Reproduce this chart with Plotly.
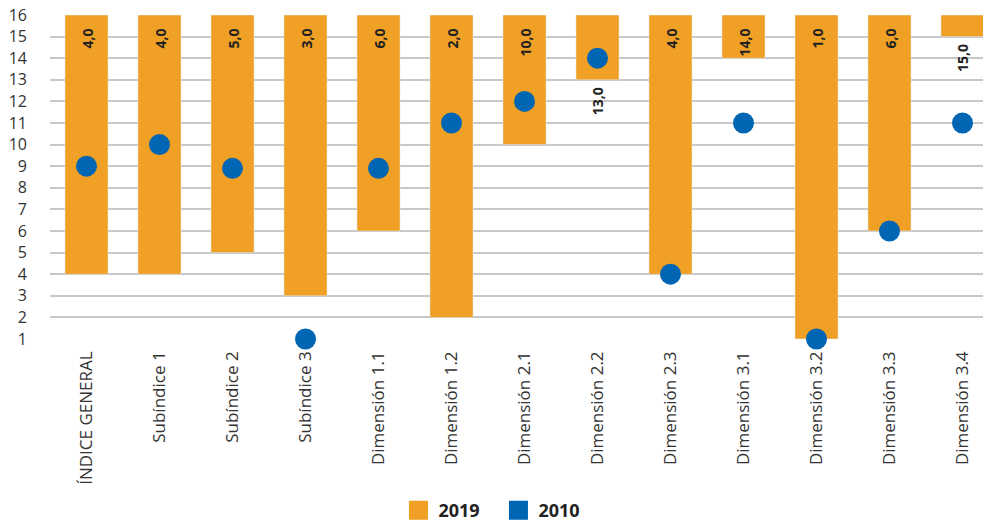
import plotly.graph_objects as go

categories = ["ÍNDICE GENERAL", "Subíndice 1", "Subíndice 2", "Subíndice 3",
              "Dimensión 1.1", "Dimensión 1.2", "Dimensión 2.1", "Dimensión 2.2",
              "Dimensión 2.3", "Dimensión 3.1", "Dimensión 3.2", "Dimensión 3.3",
              "Dimensión 3.4"]
rank_2019 = [4, 4, 5, 3, 6, 2, 10, 13, 4, 14, 1, 6, 15]
rank_2010 = [9, 10, 8.9, 1, 8.9, 11, 12, 14, 4, 11, 1, 6, 11]
y_ticks = list(range(1, 17))

ORANGE = "#F0A024"
BLUE = "#0066B3"
TOP = 16

fig = go.Figure()

fig.add_trace(go.Bar(
    x=categories,
    y=[v - TOP for v in rank_2019],
    base=TOP,
    name="2019",
    marker_color=ORANGE,
    width=0.59,
    showlegend=False,
))

fig.add_trace(go.Scatter(
    x=categories,
    y=rank_2010,
    name="2010",
    mode="markers",
    marker=dict(color=BLUE, size=21, symbol="circle"),
    cliponaxis=False,
    showlegend=False,
))

# legend-only entries so both keys are squares
for name, col in [("2019", ORANGE), ("2010", BLUE)]:
    fig.add_trace(go.Scatter(
        x=[None], y=[None], name=name, mode="markers",
        marker=dict(color=col, size=16, symbol="square",
                    line=dict(color=col, width=3)),
    ))

# value labels, rotated, near the top of each bar (below it for short bars)
for cat, v in zip(categories, rank_2019):
    txt = f"{v:.1f}".replace(".", ",")
    outside = v in (13, 15)
    fig.add_annotation(
        x=cat, y=v if outside else TOP,
        text=f"<b>{txt}</b>", showarrow=False,
        textangle=-90, yanchor="top",
        yshift=-6 if outside else -12,
        font=dict(family="Open Sans", size=14, color="#222222"),
    )

fig.update_layout(
    width=991, height=521,
    margin=dict(l=42, r=0, t=7, b=190, autoexpand=False),
    plot_bgcolor="white",
    paper_bgcolor="white",
    font=dict(family="Open Sans", size=16, color="#333333"),
    showlegend=True,
    legend=dict(
        orientation="h", xref="container", x=0.394, xanchor="left",
        yref="container", y=0.0, yanchor="bottom",
        font=dict(size=18, color="#222222", weight="bold"),
        itemsizing="trace",
        entrywidth=55,
    ),
)

fig.update_xaxes(
    type="category",
    range=[-0.5, 12.5],
    tickangle=-90,
    showgrid=False,
    showline=False,
    ticks="",
    ticklabelstandoff=8,
    tickfont=dict(size=17, color="#333333"),
)

fig.update_yaxes(
    range=[1, 16],
    tickvals=y_ticks,
    showgrid=True,
    gridcolor="#C8C8C8",
    gridwidth=1.5,
    zeroline=False,
    showline=False,
    ticks="",
    ticklabeloverflow="allow",
    ticklabelstandoff=22,
    tickfont=dict(size=16, color="#333333"),
)

fig.write_html("out.html")
